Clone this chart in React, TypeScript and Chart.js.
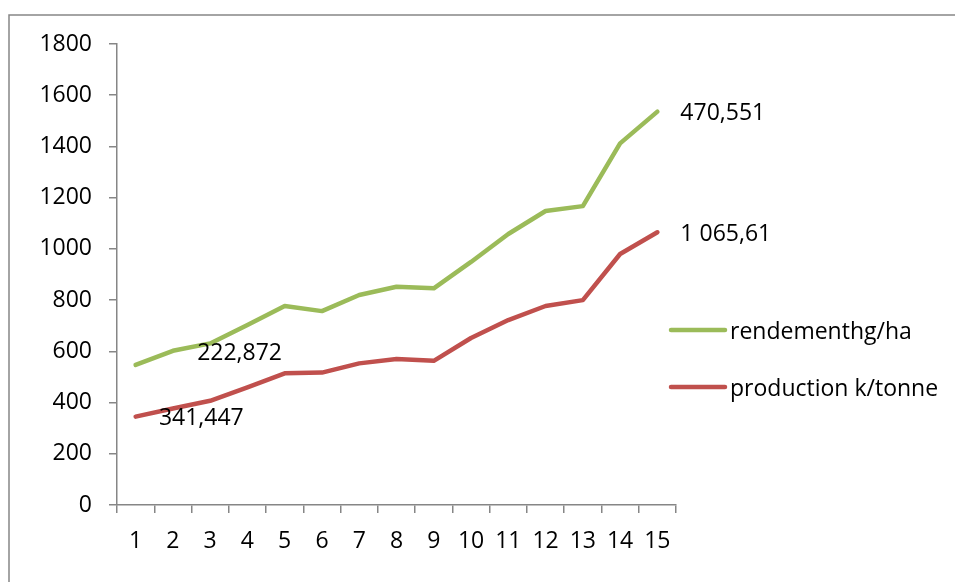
import React, { useEffect, useRef } from "react";
import { Chart, registerables } from "chart.js";

Chart.register(...registerables);

const categories = ["1", "2", "3", "4", "5", "6", "7", "8", "9", "10", "11", "12", "13", "14", "15"];
const rendement = [547, 602, 631, 703, 777, 757, 820, 852, 846, 949, 1058, 1148, 1167, 1412, 1536];
const production = [345, 377, 407, 459, 514, 517, 553, 570, 563, 652, 722, 777, 800, 980, 1065];
const rendementLabels = ["", "", "222,872", "", "", "", "", "", "", "", "", "", "", "", "470,551"];
const productionLabels = ["", "341,447", "", "", "", "", "", "", "", "", "", "", "", "", "1 065,61"];
const seriesNames = ["rendementhg/ha", "production k/tonne"];
const yTicks = [0, 200, 400, 600, 800, 1000, 1200, 1400, 1600, 1800];

const GREEN = "#9BBB59";
const RED = "#C0504D";
const FONT = "'Open Sans', 'Noto Sans', sans-serif";
const FS = 23;

export default function App() {
  const ref = useRef<HTMLCanvasElement>(null);
  useEffect(() => {
    const canvas = ref.current!;
    const framePlugin = {
      id: "frame",
      beforeDraw(chart: any) {
        const ctx = chart.ctx;
        ctx.save();
        ctx.fillStyle = "#fff";
        ctx.fillRect(0, 0, chart.width, chart.height);
        ctx.strokeStyle = "#868686";
        ctx.lineWidth = 1.5;
        ctx.strokeRect(9, 15, chart.width + 20, chart.height + 20);
        ctx.restore();
      },
    };
    const labelPlugin = {
      id: "dlabels",
      afterDatasetsDraw(chart: any) {
        const ctx = chart.ctx;
        ctx.save();
        ctx.font = `${FS}px ${FONT}`;
        ctx.fillStyle = "#000";
        ctx.textBaseline = "middle";
        ctx.textAlign = "left";
        const sets = [rendementLabels, productionLabels];
        sets.forEach((labels, di) => {
          const meta = chart.getDatasetMeta(di);
          labels.forEach((t, i) => {
            if (!t) return;
            const p = meta.data[i];
            let dx = 23, dy = 2;
            if (i === 2 && di === 0) { dx = -13; dy = 10; }
            if (i === 1 && di === 1) { dx = -14; dy = 10; }
            ctx.fillText(t, p.x + dx, p.y + dy);
          });
        });
        const items = [
          { name: seriesNames[0], color: GREEN, y: 330 },
          { name: seriesNames[1], color: RED, y: 387 },
        ];
        items.forEach((it) => {
          ctx.strokeStyle = it.color;
          ctx.lineWidth = 4.5;
          ctx.lineCap = "round";
          ctx.beginPath();
          ctx.moveTo(671, it.y);
          ctx.lineTo(725, it.y);
          ctx.stroke();
          ctx.fillStyle = "#000";
          ctx.fillText(it.name, 730, it.y + 2);
        });
        ctx.restore();
      },
    };
    const chart = new Chart(canvas, {
      type: "line",
      data: {
        labels: categories,
        datasets: [
          { label: seriesNames[0], data: rendement, borderColor: GREEN, backgroundColor: GREEN, borderWidth: 4.5, pointRadius: 0, tension: 0, borderCapStyle: "round", borderJoinStyle: "round" },
          { label: seriesNames[1], data: production, borderColor: RED, backgroundColor: RED, borderWidth: 4.5, pointRadius: 0, tension: 0, borderCapStyle: "round", borderJoinStyle: "round" },
        ],
      },
      options: {
        responsive: false,
        animation: false,
        layout: { padding: { left: 0, top: 44, right: 279, bottom: 0 } },
        plugins: { legend: { display: false }, tooltip: { enabled: false } },
        scales: {
          x: {
            offset: true,
            grid: { offset: true, drawOnChartArea: false, drawTicks: true, tickLength: 8, color: "#868686", lineWidth: 1.5 },
            border: { color: "#868686", width: 1.5 },
            ticks: { color: "#000", font: { family: FONT, size: FS }, padding: 15, maxRotation: 0, autoSkip: false },
            afterFit(s: any) { s.height = 77; },
          },
          y: {
            min: 0,
            max: 1800,
            afterBuildTicks(s: any) { s.ticks = yTicks.map((v) => ({ value: v })); },
            grid: { drawOnChartArea: false, drawTicks: true, tickLength: 8, color: "#868686", lineWidth: 1.5 },
            border: { color: "#868686", width: 1.5 },
            ticks: { color: "#000", font: { family: FONT, size: FS }, padding: 17, callback: (v: any) => String(v) },
            afterFit(s: any) { s.width = 117; },
          },
        },
      },
      plugins: [framePlugin, labelPlugin],
    } as any);
    return () => chart.destroy();
  }, []);
  return (
    <div style={{ position: "absolute", left: 0, top: 0, width: 955, height: 582 }}>
      <canvas ref={ref} width={955} height={582} style={{ display: "block" }} />
    </div>
  );
}
